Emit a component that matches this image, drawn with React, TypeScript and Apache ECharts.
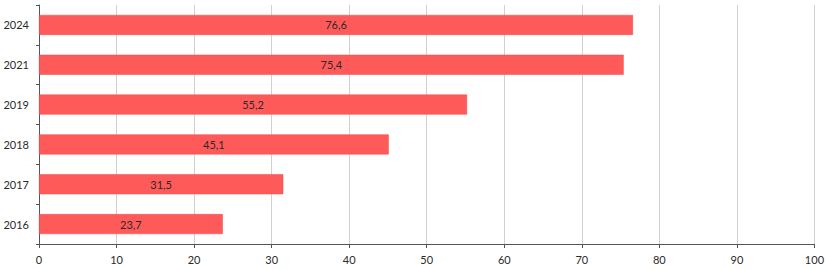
import React, { useEffect, useRef } from "react";
import * as echarts from "echarts";

const categories = ["2016", "2017", "2018", "2019", "2021", "2024"];
const values = [23.7, 31.5, 45.1, 55.2, 75.4, 76.6];
const xTicks = [0, 10, 20, 30, 40, 50, 60, 70, 80, 90, 100];

export default function App() {
  const ref = useRef<HTMLDivElement>(null);
  useEffect(() => {
    if (!ref.current) return;
    const chart = echarts.init(ref.current, undefined, { renderer: "svg" });
    chart.setOption({
      animation: false,
      grid: { left: 39, right: 11, top: 5, bottom: 25, containLabel: false },
      xAxis: {
        type: "value",
        min: xTicks[0],
        max: xTicks[xTicks.length - 1],
        interval: 10,
        axisLine: { show: true, lineStyle: { color: "#555", width: 1 } },
        axisTick: { show: true, length: 4, lineStyle: { color: "#555" } },
        axisLabel: { color: "#2a2a2a", fontSize: 11, fontFamily: "Lato", margin: 10 },
        splitLine: { show: true, lineStyle: { color: "#d0d0d0", width: 1 } },
      },
      yAxis: {
        type: "category",
        data: categories,
        axisLine: { show: true, lineStyle: { color: "#555", width: 1 } },
        axisTick: { show: true, length: 3, lineStyle: { color: "#555" } },
        axisLabel: { color: "#2a2a2a", fontSize: 11, fontFamily: "Lato", margin: 10 },
        splitLine: { show: false },
      },
      series: [
        {
          type: "bar",
          data: values,
          barWidth: 20,
          itemStyle: { color: "#ff5a5a", borderColor: "#f04848", borderWidth: 0.5 },
          label: {
            show: true,
            position: "inside",
            color: "#2a2a2a",
            fontSize: 11,
            fontFamily: "Lato",
            formatter: (p: any) => String(p.value).replace(".", ","),
          },
        },
      ],
    });
    return () => chart.dispose();
  }, []);
  return <div ref={ref} style={{ width: 827, height: 269, position: "absolute", left: 0, top: 0 }} />;
}
